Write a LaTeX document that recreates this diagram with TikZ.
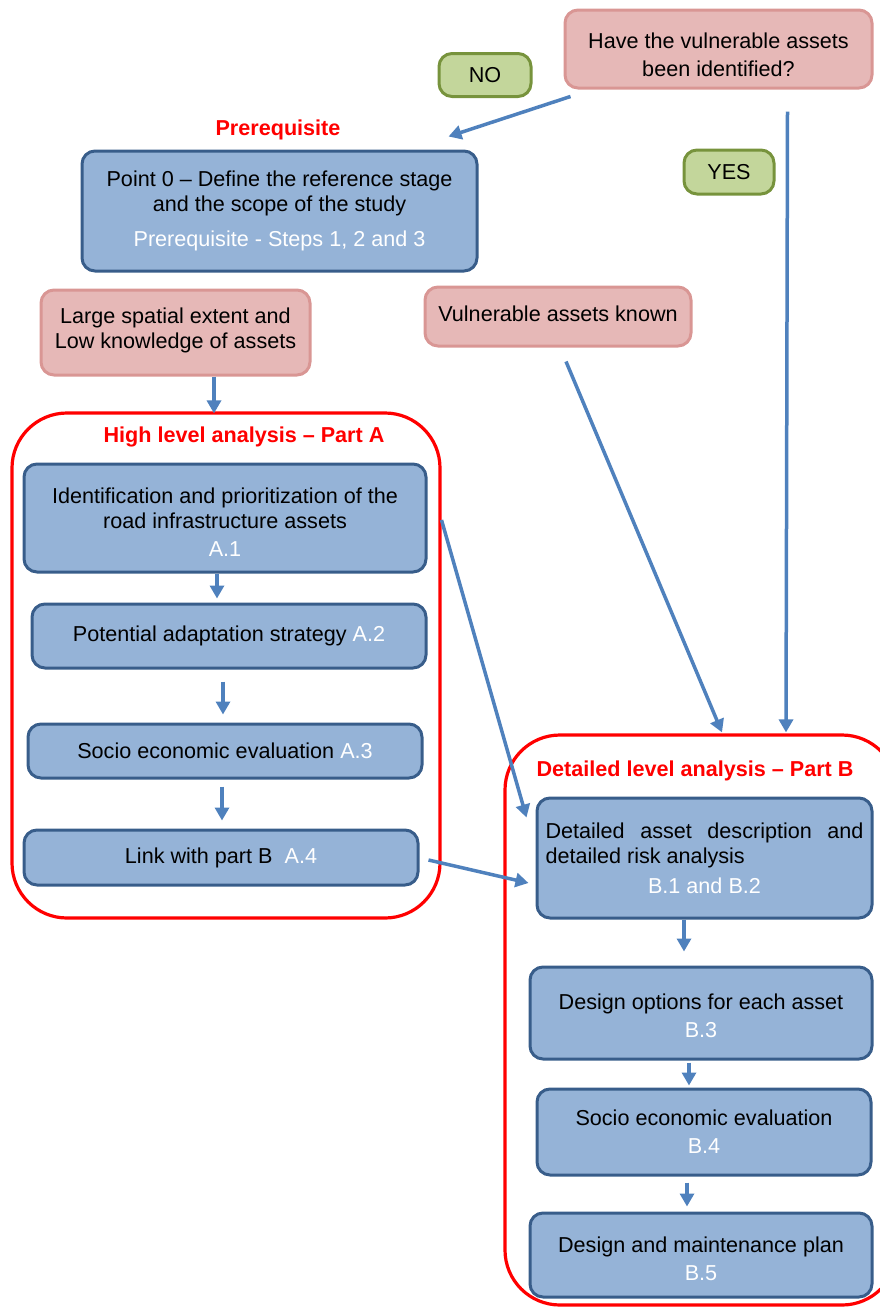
\documentclass[tikz,border=0pt]{standalone}
\usepackage{fontspec}
\setmainfont{Liberation Sans}
\usetikzlibrary{arrows.meta,calc}
\definecolor{boxblue}{HTML}{95B3D7}
\definecolor{boxedge}{HTML}{385D8A}
\definecolor{pinkfill}{HTML}{E6B8B7}
\definecolor{pinkedge}{HTML}{D99694}
\definecolor{greenfill}{HTML}{C3D69B}
\definecolor{greenedge}{HTML}{77933C}
\definecolor{arrblue}{HTML}{4F81BD}
\definecolor{partred}{HTML}{FF0000}
% lower text by half of #1
\newcommand{\downtext}[3]{\parbox{#2}{\centering\vspace*{#1}#3}}
% raise text by half of #1
\newcommand{\uptext}[3]{\parbox{#2}{\centering #3\par\vspace*{#1}}}
\begin{document}
\begin{tikzpicture}[x=1pt,y=-1pt,
  base/.style={rectangle,rounded corners=13pt,line width=3pt,inner sep=0pt,align=center,
    font=\fontsize{21.6}{25}\selectfont},
  bluebox/.style={base,fill=boxblue,draw=boxedge},
  pinkbox/.style={base,fill=pinkfill,draw=pinkedge},
  greenbox/.style={base,fill=greenfill,draw=greenedge},
  container/.style={rectangle,draw=partred,line width=3.2pt,rounded corners=55pt,inner sep=0pt},
  partlabel/.style={text=partred,font=\fontsize{21.6}{25}\selectfont\bfseries},
  arr/.style={draw=arrblue,line width=3.5pt,-{Triangle[length=13pt,width=14pt]}}
]
\useasboundingbox (0,0) rectangle (880,1307);
\clip (0,0) rectangle (880,1307);

% containers
\node[container,minimum width=428pt,minimum height=505pt] (cA) at (226,665.5) {};
\node[container,minimum width=392pt,minimum height=570pt] (cB) at (701,1020) {};
\node[partlabel] (lA) at (244,437) {High level analysis -- Part A};
\node[partlabel] (lB) at (695,771) {Detailed level analysis -- Part B};
\node[partlabel] (lP) at (278,130) {Prerequisite};

% top decision
\node[pinkbox,minimum width=307pt,minimum height=78pt,font=\fontsize{21.6}{28}\selectfont] (q) at (718.5,49)
  {\downtext{12pt}{300pt}{Have the vulnerable assets\\been identified?}};
\node[greenbox,minimum width=92pt,minimum height=43pt] (no) at (485,75) {NO};
\node[greenbox,minimum width=90pt,minimum height=44pt] (yes) at (729,172) {YES};

% prerequisite
\node[bluebox,minimum width=395pt,minimum height=120pt] (p0) at (279.5,211)
  {Point 0 -- Define the reference stage\\and the scope of the study\\[10pt]{\color{white}Prerequisite - Steps 1, 2 and 3}};

\node[pinkbox,minimum width=269pt,minimum height=85pt] (ls) at (175.5,332.5)
  {\uptext{4pt}{262pt}{Large spatial extent and\\Low knowledge of assets}};
\node[pinkbox,minimum width=266pt,minimum height=59pt] (vk) at (558,316.5)
  {\uptext{6pt}{260pt}{Vulnerable assets known}};

% part A
\node[bluebox,minimum width=402pt,minimum height=108pt] (a1) at (225,518)
  {\downtext{8pt}{395pt}{Identification and prioritization of the\\road infrastructure assets\\[3pt]{\color{white}A.1}}};
\node[bluebox,minimum width=394pt,minimum height=64pt] (a2) at (229,636)
  {Potential adaptation strategy {\color{white}A.2}};
\node[bluebox,minimum width=394pt,minimum height=54pt] (a3) at (225,751)
  {Socio economic evaluation {\color{white}A.3}};
\node[bluebox,minimum width=394pt,minimum height=55pt] (a4) at (221,857.5)
  {Link with part B\ \ {\color{white}A.4}};

% part B
\node[bluebox,minimum width=335pt,minimum height=120pt,align=left] (b1) at (704.5,858)
  {\makebox[318pt][s]{Detailed asset description and}\\detailed risk analysis\\[5pt]\makebox[318pt]{\color{white}B.1 and B.2}};
\node[bluebox,minimum width=342pt,minimum height=92pt] (b3) at (701,1013)
  {\downtext{6pt}{335pt}{Design options for each asset\\[3pt]{\color{white}B.3}}};
\node[bluebox,minimum width=334pt,minimum height=86pt] (b4) at (704,1132)
  {Socio economic evaluation\\[3pt]{\color{white}B.4}};
\node[bluebox,minimum width=342pt,minimum height=84pt] (b5) at (701,1255)
  {\downtext{8pt}{335pt}{Design and maintenance plan\\[3pt]{\color{white}B.5}}};

% connectors
\draw[arr] ($(q.south west)+(7,7)$) -- ($(p0.north east)+(-30,-13)$);
\draw[arr] ($(q.south east)+(-86,22)$) -- ($(cB.north)+(85,-1)$);
\draw[arr] ($(vk.south)+(8,14)$) -- ($(cB.north)+(21,-1)$);
\draw[arr] ($(ls.south)+(38.5,0)$) -- ($(cA.north)+(-12,2)$);
\draw[arr] ($(a1.south)+(-8,0)$) -- ($(a2.north)+(-12,-4)$);
\draw[arr] ($(a2.south)+(-6,12)$) -- ($(a3.north)+(-2,-8)$);
\draw[arr] ($(a3.south)+(-3,7)$) -- ($(a4.north)+(1,-8)$);
\draw[arr] ($(a1.east)+(14,2)$) -- ($(b1.north west)+(-9,21)$);
\draw[arr] ($(a4.east)+(9,2.5)$) -- ($(b1.west)+(-7,25)$);
\draw[arr] ($(b1.south)+(-20.5,0)$) -- ($(b3.north)+(-17,-14)$);
\draw[arr] ($(b3.south)+(-12,2)$) -- ($(b4.north)+(-15,-2)$);
\draw[arr] ($(b4.south)+(-17,6)$) -- ($(b5.north)+(-14,-5)$);
\end{tikzpicture}
\end{document}
